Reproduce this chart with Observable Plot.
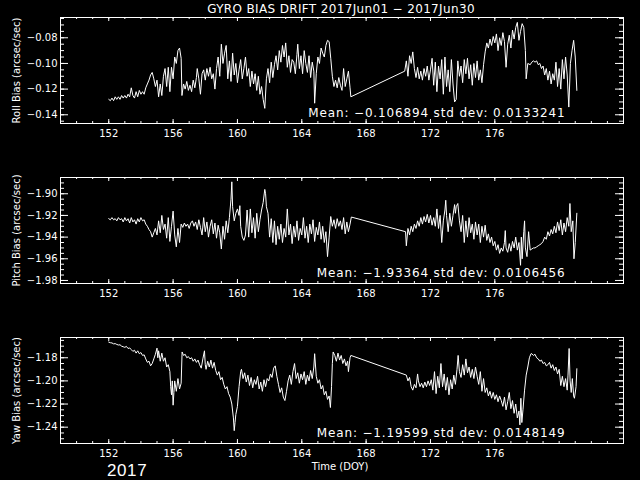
<!DOCTYPE html>
<html><head><meta charset="utf-8">
<script src="https://cdn.jsdelivr.net/npm/d3@7"></script>
<script src="https://cdn.jsdelivr.net/npm/@observablehq/plot@0.6"></script>
<style>
html,body{margin:0;padding:0;background:#000;}
#chart{position:relative;width:640px;height:480px;background:#000;overflow:hidden;font-family:"DejaVu Sans",sans-serif;}
#chart svg{position:absolute;left:0;}
</style></head><body><div id="chart"></div>
<script>
const title = "GYRO BIAS DRIFT 2017Jun01 \u2212 2017Jun30";
const xLabel = "Time (DOY)";
const yearLabel = "2017";
const xDomain = [149, 184];
const xMajor = [152, 156, 160, 164, 168, 172, 176];

const rollLabel = "Roll Bias (arcsec/sec)";
const rollDomain = [-0.1468, -0.0642];
const rollMajor = [-0.14, -0.12, -0.10, -0.08];
const rollMean = -0.106894, rollStd = 0.0133241;
const roll = [[152.0,-0.128],[152.1,-0.129],[152.2,-0.127],[152.3,-0.129],[152.4,-0.126],[152.5,-0.128],[152.6,-0.126],[152.7,-0.128],[152.8,-0.125],[152.9,-0.127],[153.0,-0.125],[153.1,-0.127],[153.2,-0.124],[153.3,-0.126],[153.4,-0.119],[153.5,-0.125],[153.6,-0.127],[153.7,-0.122],[153.8,-0.126],[153.9,-0.121],[154.0,-0.124],[154.1,-0.122],[154.2,-0.124],[154.3,-0.119],[154.4,-0.116],[154.5,-0.113],[154.6,-0.109],[154.7,-0.107],[154.8,-0.112],[154.9,-0.118],[155.0,-0.113],[155.1,-0.126],[155.2,-0.116],[155.3,-0.125],[155.4,-0.110],[155.5,-0.104],[155.6,-0.118],[155.7,-0.103],[155.8,-0.122],[155.9,-0.103],[156.0,-0.112],[156.1,-0.095],[156.2,-0.100],[156.3,-0.090],[156.4,-0.088],[156.5,-0.096],[156.55,-0.125],[156.65,-0.116],[156.75,-0.120],[156.85,-0.114],[156.95,-0.121],[157.05,-0.117],[157.15,-0.122],[157.25,-0.113],[157.35,-0.119],[157.45,-0.111],[157.5,-0.104],[157.6,-0.112],[157.7,-0.124],[157.8,-0.108],[157.9,-0.105],[158.0,-0.113],[158.1,-0.104],[158.2,-0.110],[158.3,-0.103],[158.4,-0.112],[158.5,-0.108],[158.6,-0.120],[158.7,-0.104],[158.8,-0.095],[158.9,-0.110],[159.0,-0.085],[159.1,-0.100],[159.2,-0.092],[159.3,-0.086],[159.4,-0.112],[159.5,-0.098],[159.6,-0.114],[159.7,-0.092],[159.8,-0.109],[159.9,-0.100],[160.0,-0.115],[160.1,-0.105],[160.2,-0.097],[160.3,-0.112],[160.4,-0.104],[160.5,-0.095],[160.6,-0.110],[160.7,-0.104],[160.8,-0.118],[160.9,-0.106],[161.0,-0.116],[161.1,-0.108],[161.2,-0.121],[161.3,-0.110],[161.4,-0.124],[161.5,-0.118],[161.6,-0.128],[161.7,-0.135],[161.8,-0.112],[161.9,-0.104],[162.0,-0.115],[162.1,-0.099],[162.2,-0.111],[162.3,-0.101],[162.4,-0.094],[162.5,-0.105],[162.6,-0.090],[162.7,-0.099],[162.8,-0.086],[162.9,-0.095],[163.0,-0.084],[163.1,-0.103],[163.2,-0.094],[163.3,-0.107],[163.4,-0.097],[163.5,-0.099],[163.6,-0.108],[163.7,-0.093],[163.75,-0.085],[163.85,-0.104],[163.95,-0.094],[164.05,-0.108],[164.15,-0.090],[164.25,-0.100],[164.35,-0.107],[164.45,-0.094],[164.55,-0.111],[164.65,-0.099],[164.75,-0.106],[164.8,-0.131],[164.9,-0.108],[165.0,-0.095],[165.1,-0.100],[165.2,-0.088],[165.3,-0.092],[165.4,-0.095],[165.5,-0.086],[165.6,-0.082],[165.7,-0.083],[165.8,-0.096],[165.9,-0.110],[166.0,-0.118],[166.1,-0.113],[166.2,-0.119],[166.3,-0.111],[166.4,-0.117],[166.5,-0.121],[166.6,-0.104],[166.7,-0.118],[166.8,-0.112],[166.9,-0.106],[167.0,-0.119],[167.05,-0.126],[170.4,-0.106],[170.5,-0.098],[170.6,-0.110],[170.7,-0.094],[170.8,-0.100],[170.9,-0.091],[171.0,-0.104],[171.1,-0.111],[171.2,-0.103],[171.3,-0.112],[171.4,-0.106],[171.5,-0.113],[171.6,-0.104],[171.7,-0.110],[171.8,-0.102],[171.9,-0.113],[172.0,-0.105],[172.1,-0.096],[172.2,-0.117],[172.3,-0.099],[172.4,-0.122],[172.5,-0.102],[172.6,-0.112],[172.7,-0.097],[172.8,-0.124],[172.9,-0.095],[173.0,-0.118],[173.1,-0.105],[173.2,-0.122],[173.3,-0.097],[173.4,-0.116],[173.5,-0.130],[173.6,-0.128],[173.7,-0.098],[173.8,-0.110],[173.9,-0.102],[174.0,-0.115],[174.1,-0.097],[174.2,-0.108],[174.3,-0.096],[174.4,-0.112],[174.5,-0.101],[174.6,-0.117],[174.7,-0.100],[174.8,-0.111],[174.9,-0.098],[175.0,-0.113],[175.1,-0.105],[175.2,-0.115],[175.3,-0.101],[175.4,-0.091],[175.5,-0.084],[175.6,-0.088],[175.7,-0.081],[175.8,-0.086],[175.9,-0.079],[176.0,-0.084],[176.1,-0.077],[176.2,-0.090],[176.3,-0.080],[176.4,-0.086],[176.5,-0.076],[176.6,-0.083],[176.7,-0.103],[176.8,-0.085],[176.9,-0.078],[177.0,-0.088],[177.1,-0.074],[177.2,-0.081],[177.3,-0.072],[177.4,-0.068],[177.5,-0.082],[177.6,-0.075],[177.7,-0.069],[177.8,-0.072],[177.9,-0.090],[177.95,-0.112],[178.05,-0.100],[178.2,-0.101],[178.3,-0.099],[178.4,-0.098],[178.5,-0.099],[178.6,-0.098],[178.7,-0.101],[178.8,-0.100],[178.9,-0.104],[179.0,-0.102],[179.1,-0.109],[179.2,-0.104],[179.3,-0.113],[179.4,-0.106],[179.5,-0.116],[179.6,-0.108],[179.7,-0.113],[179.8,-0.099],[179.9,-0.118],[180.0,-0.104],[180.1,-0.120],[180.2,-0.097],[180.3,-0.112],[180.4,-0.095],[180.5,-0.109],[180.6,-0.134],[180.7,-0.100],[180.8,-0.090],[180.9,-0.082],[181.0,-0.095],[181.1,-0.121]];

const pitchLabel = "Pitch Bias (arcsec/sec)";
const pitchDomain = [-1.9828, -1.885];
const pitchMajor = [-1.98, -1.96, -1.94, -1.92, -1.90];
const pitchMean = -1.93364, pitchStd = 0.0106456;
const pitch = [[152.0,-1.923],[152.1,-1.924],[152.2,-1.922],[152.3,-1.924],[152.4,-1.923],[152.5,-1.925],[152.6,-1.922],[152.7,-1.924],[152.8,-1.923],[152.9,-1.926],[153.0,-1.922],[153.1,-1.925],[153.2,-1.923],[153.3,-1.927],[153.4,-1.922],[153.5,-1.926],[153.6,-1.924],[153.7,-1.928],[153.8,-1.923],[153.9,-1.926],[154.0,-1.922],[154.1,-1.925],[154.2,-1.924],[154.3,-1.928],[154.4,-1.930],[154.5,-1.933],[154.6,-1.935],[154.7,-1.940],[154.8,-1.936],[154.9,-1.932],[155.0,-1.938],[155.1,-1.925],[155.2,-1.936],[155.3,-1.920],[155.4,-1.933],[155.5,-1.928],[155.6,-1.941],[155.7,-1.922],[155.8,-1.944],[155.9,-1.930],[156.0,-1.916],[156.1,-1.938],[156.2,-1.949],[156.3,-1.932],[156.4,-1.945],[156.5,-1.928],[156.6,-1.931],[156.7,-1.927],[156.8,-1.930],[156.9,-1.928],[157.0,-1.932],[157.1,-1.927],[157.2,-1.925],[157.3,-1.930],[157.4,-1.926],[157.5,-1.933],[157.6,-1.924],[157.7,-1.931],[157.8,-1.938],[157.9,-1.922],[158.0,-1.935],[158.1,-1.926],[158.2,-1.940],[158.3,-1.930],[158.4,-1.924],[158.5,-1.937],[158.6,-1.927],[158.7,-1.941],[158.8,-1.929],[158.9,-1.936],[159.0,-1.951],[159.1,-1.930],[159.2,-1.942],[159.3,-1.925],[159.4,-1.936],[159.5,-1.922],[159.6,-1.905],[159.65,-1.889],[159.7,-1.912],[159.8,-1.925],[159.9,-1.918],[160.0,-1.914],[160.1,-1.920],[160.15,-1.911],[160.2,-1.930],[160.3,-1.940],[160.4,-1.943],[160.5,-1.938],[160.6,-1.915],[160.7,-1.940],[160.8,-1.914],[160.9,-1.936],[161.0,-1.922],[161.1,-1.941],[161.2,-1.918],[161.3,-1.935],[161.4,-1.924],[161.5,-1.915],[161.6,-1.908],[161.7,-1.896],[161.75,-1.900],[161.8,-1.912],[161.9,-1.918],[162.0,-1.940],[162.1,-1.923],[162.2,-1.945],[162.3,-1.925],[162.4,-1.947],[162.5,-1.930],[162.6,-1.942],[162.7,-1.928],[162.8,-1.945],[162.9,-1.932],[163.0,-1.940],[163.1,-1.914],[163.2,-1.938],[163.3,-1.928],[163.4,-1.946],[163.5,-1.930],[163.6,-1.940],[163.7,-1.925],[163.8,-1.943],[163.9,-1.932],[164.0,-1.938],[164.1,-1.922],[164.2,-1.941],[164.3,-1.930],[164.4,-1.945],[164.5,-1.928],[164.6,-1.937],[164.7,-1.924],[164.8,-1.944],[164.9,-1.931],[165.0,-1.938],[165.1,-1.926],[165.2,-1.942],[165.3,-1.930],[165.4,-1.945],[165.5,-1.935],[165.6,-1.958],[165.7,-1.940],[165.8,-1.921],[165.9,-1.930],[166.0,-1.924],[166.1,-1.932],[166.2,-1.923],[166.3,-1.930],[166.4,-1.925],[166.5,-1.933],[166.6,-1.922],[166.7,-1.937],[166.8,-1.926],[166.9,-1.935],[167.0,-1.928],[167.08,-1.9215],[170.45,-1.935],[170.5,-1.948],[170.6,-1.932],[170.7,-1.938],[170.8,-1.930],[170.9,-1.935],[171.0,-1.928],[171.1,-1.932],[171.2,-1.925],[171.3,-1.930],[171.4,-1.922],[171.5,-1.928],[171.6,-1.921],[171.7,-1.926],[171.8,-1.919],[171.9,-1.927],[172.0,-1.920],[172.1,-1.929],[172.2,-1.922],[172.3,-1.930],[172.4,-1.914],[172.5,-1.932],[172.6,-1.920],[172.7,-1.945],[172.8,-1.925],[172.9,-1.915],[172.95,-1.906],[173.0,-1.920],[173.1,-1.935],[173.2,-1.918],[173.3,-1.930],[173.4,-1.920],[173.5,-1.910],[173.55,-1.918],[173.6,-1.912],[173.7,-1.909],[173.8,-1.925],[173.9,-1.935],[174.0,-1.920],[174.1,-1.945],[174.2,-1.925],[174.3,-1.940],[174.4,-1.922],[174.5,-1.936],[174.6,-1.928],[174.7,-1.942],[174.8,-1.926],[174.9,-1.938],[175.0,-1.928],[175.1,-1.945],[175.2,-1.930],[175.3,-1.940],[175.4,-1.929],[175.5,-1.943],[175.6,-1.937],[175.7,-1.945],[175.8,-1.940],[175.9,-1.948],[176.0,-1.944],[176.1,-1.952],[176.2,-1.947],[176.3,-1.955],[176.4,-1.950],[176.5,-1.953],[176.6,-1.945],[176.65,-1.934],[176.7,-1.950],[176.8,-1.954],[176.9,-1.946],[177.0,-1.953],[177.1,-1.944],[177.2,-1.950],[177.3,-1.940],[177.4,-1.952],[177.5,-1.945],[177.6,-1.966],[177.65,-1.940],[177.7,-1.960],[177.8,-1.935],[177.85,-1.925],[177.9,-1.950],[178.0,-1.958],[178.1,-1.935],[178.2,-1.952],[178.3,-1.951],[178.4,-1.950],[178.5,-1.950],[178.6,-1.949],[178.7,-1.948],[178.8,-1.947],[178.9,-1.946],[179.0,-1.944],[179.1,-1.940],[179.2,-1.942],[179.3,-1.935],[179.4,-1.939],[179.5,-1.933],[179.6,-1.937],[179.7,-1.930],[179.8,-1.936],[179.9,-1.926],[180.0,-1.934],[180.1,-1.924],[180.2,-1.938],[180.3,-1.927],[180.4,-1.935],[180.5,-1.922],[180.6,-1.930],[180.67,-1.909],[180.75,-1.935],[180.85,-1.925],[180.92,-1.960],[181.0,-1.945],[181.1,-1.918]];

const yawLabel = "Yaw Bias (arcsec/sec)";
const yawDomain = [-1.2541, -1.1625];
const yawMajor = [-1.24, -1.22, -1.20, -1.18];
const yawMean = -1.19599, yawStd = 0.0148149;
const yaw = [[152.0,-1.1665],[152.1,-1.167],[152.2,-1.1672],[152.3,-1.168],[152.4,-1.1678],[152.5,-1.1685],[152.6,-1.169],[152.7,-1.1688],[152.8,-1.170],[152.9,-1.1705],[153.0,-1.171],[153.1,-1.1702],[153.2,-1.172],[153.3,-1.1715],[153.4,-1.173],[153.5,-1.1745],[153.6,-1.1735],[153.7,-1.176],[153.8,-1.174],[153.9,-1.1765],[154.0,-1.1755],[154.1,-1.178],[154.2,-1.1775],[154.3,-1.181],[154.4,-1.184],[154.5,-1.183],[154.6,-1.187],[154.7,-1.185],[154.8,-1.181],[154.9,-1.177],[155.0,-1.1717],[155.05,-1.180],[155.1,-1.174],[155.2,-1.183],[155.3,-1.176],[155.4,-1.183],[155.5,-1.180],[155.6,-1.188],[155.7,-1.186],[155.8,-1.192],[155.85,-1.205],[155.9,-1.212],[155.95,-1.200],[156.0,-1.221],[156.05,-1.210],[156.1,-1.200],[156.2,-1.209],[156.3,-1.198],[156.4,-1.207],[156.5,-1.202],[156.56,-1.175],[156.65,-1.178],[156.75,-1.177],[156.85,-1.180],[156.95,-1.179],[157.05,-1.181],[157.15,-1.180],[157.25,-1.183],[157.35,-1.181],[157.45,-1.184],[157.55,-1.182],[157.65,-1.186],[157.75,-1.189],[157.85,-1.181],[157.95,-1.174],[158.0,-1.186],[158.05,-1.190],[158.15,-1.183],[158.25,-1.188],[158.35,-1.182],[158.45,-1.189],[158.55,-1.184],[158.65,-1.191],[158.75,-1.195],[158.85,-1.192],[158.95,-1.199],[159.05,-1.197],[159.15,-1.203],[159.25,-1.207],[159.35,-1.205],[159.45,-1.211],[159.55,-1.214],[159.65,-1.220],[159.75,-1.232],[159.8,-1.243],[159.85,-1.236],[159.9,-1.229],[160.0,-1.222],[160.1,-1.205],[160.2,-1.192],[160.25,-1.190],[160.35,-1.198],[160.45,-1.193],[160.55,-1.201],[160.65,-1.195],[160.75,-1.204],[160.85,-1.197],[160.95,-1.206],[161.05,-1.199],[161.15,-1.203],[161.25,-1.196],[161.35,-1.207],[161.45,-1.201],[161.55,-1.209],[161.65,-1.199],[161.75,-1.205],[161.85,-1.198],[161.95,-1.200],[162.05,-1.194],[162.15,-1.197],[162.25,-1.189],[162.35,-1.187],[162.45,-1.196],[162.55,-1.203],[162.65,-1.210],[162.75,-1.206],[162.85,-1.214],[162.95,-1.217],[163.05,-1.209],[163.15,-1.200],[163.25,-1.195],[163.35,-1.203],[163.45,-1.192],[163.55,-1.185],[163.65,-1.198],[163.75,-1.193],[163.85,-1.202],[163.95,-1.194],[164.05,-1.199],[164.15,-1.192],[164.25,-1.203],[164.35,-1.195],[164.45,-1.200],[164.55,-1.191],[164.65,-1.198],[164.75,-1.188],[164.8,-1.1765],[164.9,-1.196],[165.0,-1.202],[165.1,-1.199],[165.2,-1.207],[165.3,-1.204],[165.4,-1.212],[165.5,-1.209],[165.6,-1.216],[165.7,-1.213],[165.78,-1.223],[165.85,-1.205],[165.9,-1.185],[165.95,-1.175],[166.05,-1.178],[166.15,-1.183],[166.25,-1.176],[166.35,-1.182],[166.45,-1.178],[166.55,-1.185],[166.65,-1.181],[166.75,-1.187],[166.85,-1.183],[166.9,-1.192],[167.0,-1.180],[167.05,-1.178],[170.5,-1.195],[170.6,-1.200],[170.7,-1.197],[170.8,-1.205],[170.9,-1.208],[171.0,-1.203],[171.1,-1.206],[171.2,-1.194],[171.25,-1.200],[171.35,-1.205],[171.45,-1.202],[171.55,-1.206],[171.65,-1.201],[171.75,-1.205],[171.85,-1.200],[171.95,-1.204],[172.05,-1.199],[172.15,-1.208],[172.25,-1.192],[172.35,-1.211],[172.45,-1.196],[172.55,-1.206],[172.65,-1.185],[172.75,-1.205],[172.85,-1.194],[172.95,-1.208],[173.05,-1.197],[173.15,-1.212],[173.25,-1.199],[173.35,-1.207],[173.45,-1.195],[173.55,-1.203],[173.65,-1.190],[173.72,-1.178],[173.8,-1.192],[173.9,-1.197],[174.0,-1.186],[174.1,-1.195],[174.2,-1.181],[174.3,-1.193],[174.4,-1.188],[174.5,-1.197],[174.6,-1.190],[174.7,-1.198],[174.8,-1.188],[174.9,-1.196],[175.0,-1.203],[175.1,-1.192],[175.2,-1.209],[175.3,-1.198],[175.4,-1.210],[175.5,-1.206],[175.6,-1.213],[175.7,-1.209],[175.8,-1.215],[175.9,-1.210],[176.0,-1.216],[176.1,-1.212],[176.2,-1.218],[176.3,-1.213],[176.4,-1.217],[176.5,-1.222],[176.6,-1.214],[176.7,-1.225],[176.8,-1.218],[176.9,-1.210],[177.0,-1.224],[177.1,-1.217],[177.2,-1.228],[177.3,-1.220],[177.4,-1.232],[177.5,-1.226],[177.56,-1.238],[177.62,-1.215],[177.68,-1.236],[177.75,-1.225],[177.85,-1.208],[177.95,-1.195],[178.05,-1.188],[178.15,-1.180],[178.25,-1.1765],[178.3,-1.1765],[178.4,-1.178],[178.5,-1.177],[178.6,-1.180],[178.7,-1.181],[178.8,-1.183],[178.9,-1.182],[179.0,-1.185],[179.1,-1.184],[179.2,-1.187],[179.3,-1.186],[179.4,-1.184],[179.5,-1.189],[179.6,-1.186],[179.7,-1.191],[179.8,-1.188],[179.9,-1.194],[180.0,-1.190],[180.1,-1.204],[180.2,-1.196],[180.3,-1.205],[180.4,-1.198],[180.5,-1.208],[180.55,-1.195],[180.62,-1.172],[180.68,-1.200],[180.75,-1.210],[180.82,-1.198],[180.9,-1.213],[180.95,-1.215],[181.05,-1.205],[181.1,-1.1895]];

const W = 640, H = 160, ML = 60, MR = 17, MT = 17, MB = 37;
const PW = W - ML - MR, PH = H - MT - MB;
const FONT = "DejaVu Sans";
const minus = v => String(v).replace("-", "\u2212");

function panel(data, yDomain, yMajor, yLabel, mean, std) {
  const yMinor = d3.range(Math.ceil(yDomain[0] / 0.005) * 0.005, yDomain[1], 0.005);
  const xMinor = d3.range(150, 184, 1);
  const svg = Plot.plot({
    width: W, height: H,
    marginLeft: ML, marginRight: MR, marginTop: MT, marginBottom: MB,
    style: {background: "transparent", color: "white", fontFamily: FONT, fontSize: "10px"},
    x: {domain: xDomain},
    y: {domain: yDomain},
    marks: [
      Plot.frame({stroke: "white"}),
      Plot.tickY(yMinor, {y: d => d, stroke: "white", insetRight: PW - 4}),
      Plot.tickY(yMinor, {y: d => d, stroke: "white", insetLeft: PW - 4}),
      Plot.tickY(yMajor, {y: d => d, stroke: "white", insetRight: PW - 8}),
      Plot.tickY(yMajor, {y: d => d, stroke: "white", insetLeft: PW - 8}),
      Plot.tickX(xMinor, {x: d => d, stroke: "white", insetTop: PH - 2}),
      Plot.tickX(xMinor, {x: d => d, stroke: "white", insetBottom: PH - 2}),
      Plot.tickX(xMajor, {x: d => d, stroke: "white", insetTop: PH - 4}),
      Plot.tickX(xMajor, {x: d => d, stroke: "white", insetBottom: PH - 4}),
      Plot.axisY({ticks: yMajor, tickSize: 0, tickPadding: 3, tickFormat: d3.format(".2f"), label: null, fill: "white", fontSize: 10}),
      Plot.axisX({ticks: xMajor, tickSize: 0, tickPadding: 6, tickFormat: d => String(d), label: null, fill: "white", fontSize: 10}),
      Plot.line(data, {x: d => d[0], y: d => d[1], stroke: "white", strokeWidth: 1}),
      Plot.text([yLabel], {text: d => d, frameAnchor: "left", textAnchor: "middle", lineAnchor: "middle", rotate: -90, dx: -44, fill: "white", fontSize: 10}),
      Plot.text([`Mean: ${minus(mean)} std dev: ${std}`], {text: d => d, frameAnchor: "bottom-right", textAnchor: "end", lineAnchor: "bottom", dx: -58, dy: -7, fill: "white", fontSize: 12})
    ]
  });
  d3.select(svg).selectAll("text").filter(function() { return this.textContent.startsWith("Mean"); }).attr("letter-spacing", "0.85px");
  return svg;
}

const chart = document.getElementById("chart");
[[roll, rollDomain, rollMajor, rollLabel, rollMean, rollStd],
 [pitch, pitchDomain, pitchMajor, pitchLabel, pitchMean, pitchStd],
 [yaw, yawDomain, yawMajor, yawLabel, yawMean, yawStd]].forEach((p, i) => {
  const svg = panel(...p);
  svg.style.position = "absolute";
  svg.style.top = (i * 160) + "px";
  svg.style.left = "0px";
  chart.appendChild(svg);
});

const ov = d3.create("svg").attr("width", 640).attr("height", 480)
  .style("position", "absolute").style("top", "0px").style("left", "0px")
  .attr("font-family", FONT).attr("fill", "white");
ov.append("text").attr("x", 341).attr("y", 13).attr("text-anchor", "middle")
  .attr("font-size", 12).attr("letter-spacing", "0.35px").text(title);
ov.append("text").attr("x", 340).attr("y", 470).attr("text-anchor", "middle")
  .attr("font-size", 10).text(xLabel);
ov.append("text").attr("x", 107).attr("y", 476).attr("font-family", "Liberation Sans")
  .attr("font-size", 17).attr("letter-spacing", "0.6px").text(yearLabel);
chart.appendChild(ov.node());
</script></body></html>
